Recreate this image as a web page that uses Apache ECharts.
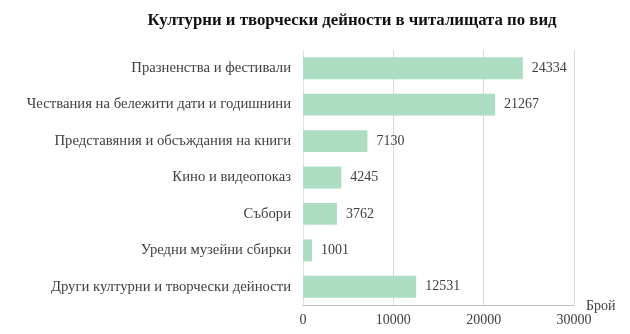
<!DOCTYPE html>
<html><head><meta charset="utf-8">
<script src="https://cdn.jsdelivr.net/npm/echarts@6/dist/echarts.min.js"></script>
<style>html,body{margin:0;padding:0;background:#fff}#c{width:630px;height:334px}</style>
</head><body><div id="c"></div>
<script>
const categories = ["Празненства и фестивали","Чествания на бележити дати и годишнини","Представяния и обсъждания на книги","Кино и видеопоказ","Събори","Уредни музейни сбирки","Други културни и творчески дейности"];
const values = [24334,21267,7130,4245,3762,1001,12531];
const title = "Културни и творчески дейности в читалищата по вид";
const axisName = "Брой";
const F = "'Liberation Serif','Times New Roman',serif";
const chart = echarts.init(document.getElementById('c'));
chart.setOption({
  animation:false,
  title:{text:title,left:347,top:7,textAlign:'center',textStyle:{fontFamily:F,fontSize:16.8,fontWeight:'bold',color:'#111'}},
  grid:{left:303,right:56,top:50,bottom:29},
  xAxis:{type:'value',min:0,max:30000,interval:10000,name:axisName,nameLocation:'end',nameGap:12,
    nameTextStyle:{fontFamily:F,fontSize:14,color:'#404040',verticalAlign:'top',padding:[-6,0,0,0]},
    axisLine:{show:true,lineStyle:{color:'#bfbfbf'}},axisTick:{show:false},
    axisLabel:{fontFamily:F,fontSize:14,color:'#404040',margin:8,formatter:v=>String(v)},
    splitLine:{lineStyle:{color:'#d9d9d9'}}},
  yAxis:{type:'category',data:categories,inverse:true,
    axisLine:{show:true,lineStyle:{color:'#e3e3e3'}},axisTick:{show:false},
    axisLabel:{fontFamily:F,fontSize:14.7,color:'#404040',margin:12}},
  series:[{type:'bar',data:values,barCategoryGap:'40%',itemStyle:{color:'#addec4'},
    label:{show:true,position:'right',distance:9,fontFamily:F,fontSize:14,color:'#404040'}}]
});
</script></body></html>
